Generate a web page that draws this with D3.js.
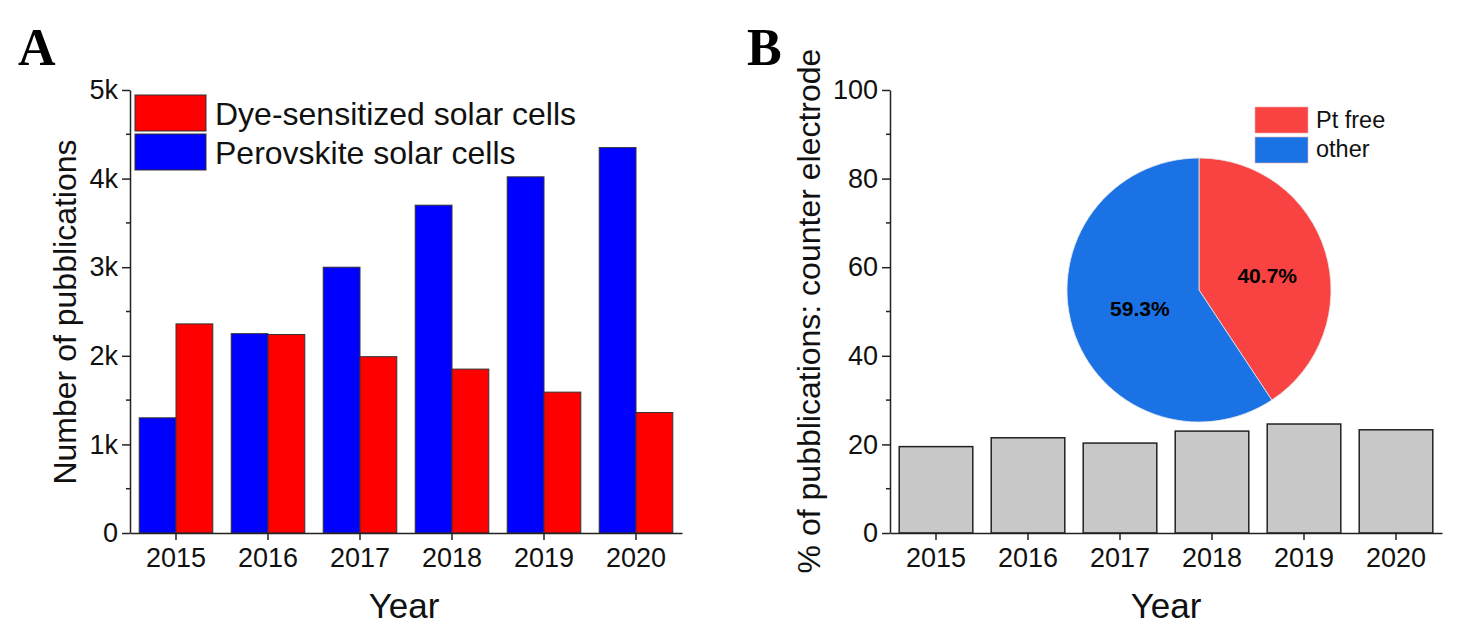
<!DOCTYPE html>
<html>
<head>
<meta charset="utf-8">
<script src="https://cdn.jsdelivr.net/npm/d3@7"></script>
<style>
  body { margin: 0; background: #fff; }
  svg { display: block; }
  .axis text { font-family: Arial, "Liberation Sans", sans-serif; font-size: 27px; fill: #111; }
  .axis path, .axis line { stroke: #222; stroke-width: 1.5; }
</style>
</head>
<body>
<svg id="vis" width="1464" height="640"></svg>
<script>
// publication data
var years = ["2015", "2016", "2017", "2018", "2019", "2020"];
var perovskite = [1300, 2250, 3000, 3700, 4020, 4350];
var dyeSensitized = [2360, 2240, 1990, 1850, 1590, 1360];
var countTicks = [0, 1000, 2000, 3000, 4000, 5000];
var countTickLabels = ["0", "1k", "2k", "3k", "4k", "5k"];

var ptFreeShare = [19.5, 21.5, 20.3, 23.0, 24.6, 23.3];
var shareTicks = [0, 20, 40, 60, 80, 100];

var pieLabels = ["Pt free", "other"];
var pieValues = [40.7, 59.3];

var FONT = 'Arial, "Liberation Sans", sans-serif';

var svg = d3.select("#vis");

function addText(canvas, x, y, text, size, anchor, transform){
    var t = canvas.append("text")
        .attr("x", x)
        .attr("y", y)
        .attr("text-anchor", anchor || "middle")
        .style("font-family", FONT)
        .style("font-size", size + "px")
        .style("fill", "#111")
        .text(text);
    if (transform) t.attr("transform", transform);
    return t;
}

function panelLetter(x, y, letter){
    return svg.append("text")
        .attr("x", x).attr("y", y)
        .style("font-family", '"Liberation Serif", "Times New Roman", serif')
        .style("font-weight", "bold")
        .style("font-size", "52px")
        .text(letter);
}

function minorTicks(g, yScale, step, max, x0){
    d3.range(step, max, step * 2).forEach(function(v){
        g.append("line")
            .attr("x1", x0 - 4).attr("x2", x0)
            .attr("y1", yScale(v)).attr("y2", yScale(v))
            .attr("stroke", "#222").attr("stroke-width", 1.5);
    });
}

// ---------- panel A ----------
var axL = 130, axR = 682, y0 = 533, yTop = 90;

var xA = d3.scaleBand().domain(years).range([axL, axR]).paddingInner(0.2).paddingOuter(0.1);
var xSub = d3.scaleBand().domain(["pero", "dye"]).range([0, xA.bandwidth()]);
var yA = d3.scaleLinear().domain([0, 5000]).range([y0, yTop]);

var gA = svg.append("g");

years.forEach(function(yr, i){
    gA.append("rect")
        .attr("x", xA(yr) + xSub("pero")).attr("y", yA(perovskite[i]))
        .attr("width", xSub.bandwidth()).attr("height", y0 - yA(perovskite[i]))
        .attr("fill", "#0000ff").attr("stroke", "#333").attr("stroke-width", 1);
    gA.append("rect")
        .attr("x", xA(yr) + xSub("dye")).attr("y", yA(dyeSensitized[i]))
        .attr("width", xSub.bandwidth()).attr("height", y0 - yA(dyeSensitized[i]))
        .attr("fill", "#ff0000").attr("stroke", "#333").attr("stroke-width", 1);
});

gA.append("g").attr("class", "axis")
    .attr("transform", "translate(" + axL + ",0)")
    .call(d3.axisLeft(yA).tickValues(countTicks)
        .tickFormat(function(d, i){ return countTickLabels[i]; })
        .tickSize(8).tickSizeOuter(0).tickPadding(4));
minorTicks(gA, yA, 500, 5000, axL);

gA.append("g").attr("class", "axis")
    .attr("transform", "translate(0," + y0 + ")")
    .call(d3.axisBottom(xA).tickSize(7).tickSizeOuter(0).tickPadding(8));

addText(svg, 0, 0, "Number of pubblications", 32, "middle", "translate(76,312) rotate(-90)");
addText(svg, 404, 618, "Year", 35);

// legend A
var legA = [["Dye-sensitized solar cells", "#ff0000"], ["Perovskite solar cells", "#0000ff"]];
legA.forEach(function(d, i){
    svg.append("rect")
        .attr("x", 135).attr("y", 95 + i * 39)
        .attr("width", 71).attr("height", 36)
        .attr("fill", d[1]).attr("stroke", "#333").attr("stroke-width", 1);
    addText(svg, 215, 125 + i * 39, d[0], 32, "start");
});

panelLetter(18, 65, "A");

// ---------- panel B ----------
var bxL = 890, bxR = 1442;
var xB = d3.scaleBand().domain(years).range([bxL, bxR]).paddingInner(0.2).paddingOuter(0.1);
var yB = d3.scaleLinear().domain([0, 100]).range([y0, yTop]);

var gB = svg.append("g");
years.forEach(function(yr, i){
    gB.append("rect")
        .attr("x", xB(yr)).attr("y", yB(ptFreeShare[i]))
        .attr("width", xB.bandwidth()).attr("height", y0 - yB(ptFreeShare[i]))
        .attr("fill", "#c8c8c8").attr("stroke", "#222").attr("stroke-width", 1.5);
});

gB.append("g").attr("class", "axis")
    .attr("transform", "translate(" + bxL + ",0)")
    .call(d3.axisLeft(yB).tickValues(shareTicks)
        .tickSize(8).tickSizeOuter(0).tickPadding(4));
minorTicks(gB, yB, 10, 100, bxL);

gB.append("g").attr("class", "axis")
    .attr("transform", "translate(0," + y0 + ")")
    .call(d3.axisBottom(xB).tickSize(7).tickSizeOuter(0).tickPadding(8));

addText(svg, 0, 0, "% of pubblications: counter electrode", 32, "middle", "translate(820,311) rotate(-90)");
addText(svg, 1166, 618, "Year", 35);

// pie inset
var pieColors = d3.scaleOrdinal().domain(pieLabels).range(["#f94343", "#1b72e4"]);
var pie = d3.pie().sort(null).value(function(d){ return d; });
var arc = d3.arc().innerRadius(0).outerRadius(132);
var labelArc = d3.arc().innerRadius(0).outerRadius(132);
var gPie = svg.append("g").attr("transform", "translate(1199,290)");
var slices = pie(pieValues);
gPie.selectAll("path").data(slices).enter().append("path")
    .attr("d", arc)
    .attr("fill", function(d, i){ return pieColors(pieLabels[i]); })
    .attr("stroke", "#e8e8e8").attr("stroke-width", 0.8);
gPie.selectAll("text").data(slices).enter().append("text")
    .attr("transform", function(d, i){
        var c = labelArc.centroid(d);
        return "translate(" + (c[0] + (i === 0 ? 5 : 4)) + "," + (c[1] + (i === 0 ? 12 : 7)) + ")";
    })
    .attr("text-anchor", "middle")
    .style("font-family", FONT).style("font-weight", "bold").style("font-size", "21px")
    .text(function(d){ return d.data.toFixed(1) + "%"; });

pieLabels.forEach(function(lbl, i){
    svg.append("rect")
        .attr("x", 1255).attr("y", 107 + i * 30)
        .attr("width", 53).attr("height", 26)
        .attr("fill", pieColors(lbl)).attr("stroke", "#f2b0b0").attr("stroke-width", 0.6);
    addText(svg, 1316, 128 + i * 29, lbl, 23.5, "start");
});

panelLetter(747, 65, "B");
</script>
</body>
</html>
